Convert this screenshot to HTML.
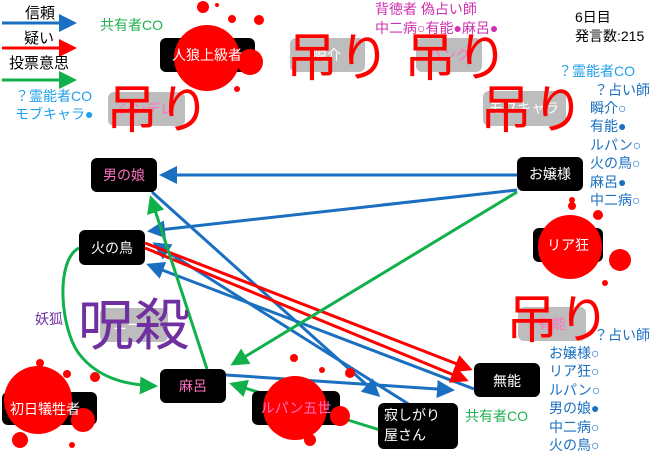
<!DOCTYPE html>
<html><head><meta charset="utf-8"><style>
html,body{margin:0;padding:0;background:#fff;}
svg{display:block;}
text{font-family:"Liberation Sans","Noto Sans CJK JP",sans-serif;}
</style></head><body>
<svg width="660" height="452" viewBox="0 0 660 452" xmlns="http://www.w3.org/2000/svg">
<defs>
<marker id="ab" markerWidth="6" markerHeight="6" refX="5" refY="3" orient="auto" markerUnits="strokeWidth"><path d="M0,0 L6,3 L0,6 z" fill="#1a6fc0"/></marker>
<marker id="ar" markerWidth="6" markerHeight="6" refX="5" refY="3" orient="auto" markerUnits="strokeWidth"><path d="M0,0 L6,3 L0,6 z" fill="#ff0000"/></marker>
<marker id="ag" markerWidth="6" markerHeight="6" refX="5" refY="3" orient="auto" markerUnits="strokeWidth"><path d="M0,0 L6,3 L0,6 z" fill="#10b04a"/></marker>
</defs>

<!-- legend -->
<text x="25" y="18" font-size="15">信頼</text>
<line x1="2" y1="23" x2="74" y2="23" stroke="#1a6fc0" stroke-width="3" marker-end="url(#ab)"/>
<text x="24" y="43" font-size="15">疑い</text>
<line x1="2" y1="48" x2="74" y2="48" stroke="#ff0000" stroke-width="3" marker-end="url(#ar)"/>
<text x="9" y="68" font-size="15">投票意思</text>
<line x1="2" y1="80" x2="74" y2="80" stroke="#10b04a" stroke-width="3" marker-end="url(#ag)"/>

<!-- gray hanged boxes -->
<rect x="108" y="92" width="77" height="34" rx="6" fill="#bdbdbd"/><text x="146" y="114" font-size="14" fill="#ff70c0" text-anchor="middle">シンデレ</text>
<rect x="290" y="38" width="75" height="34" rx="6" fill="#bdbdbd"/><text x="327" y="60" font-size="14" fill="#fff" text-anchor="middle">瞬介</text>
<rect x="416" y="38" width="66" height="34" rx="6" fill="#bdbdbd"/><text x="449" y="60" font-size="14" fill="#ff70c0" text-anchor="middle">ハンク</text>
<rect x="483" y="91" width="83" height="35" rx="6" fill="#bdbdbd"/><text x="524" y="113" font-size="14" fill="#fff" text-anchor="middle">モブキャラ</text>
<rect x="518" y="307" width="68" height="34" rx="6" fill="#bdbdbd"/><text x="552" y="329" font-size="14" fill="#ff70c0" text-anchor="middle">有能</text>
<rect x="100" y="308" width="68" height="34" rx="6" fill="#bdbdbd"/><text x="134" y="330" font-size="14" fill="#fff" text-anchor="middle">ニート</text>

<!-- edges -->
<g fill="none" stroke-width="3">
<line x1="517" y1="175" x2="162" y2="175" stroke="#1a6fc0" marker-end="url(#ab)"/>
<line x1="517" y1="190" x2="150" y2="231" stroke="#1a6fc0" marker-end="url(#ab)"/>
<line x1="152" y1="192" x2="378" y2="395" stroke="#1a6fc0" marker-end="url(#ab)"/>
<line x1="410" y1="405" x2="155" y2="244" stroke="#1a6fc0" marker-end="url(#ab)"/>
<line x1="474" y1="389" x2="149" y2="265" stroke="#1a6fc0" marker-end="url(#ab)"/>
<line x1="226" y1="375" x2="452" y2="390" stroke="#1a6fc0" marker-end="url(#ab)"/>
<line x1="145" y1="243" x2="470" y2="369" stroke="#ff0000" marker-end="url(#ar)"/>
<line x1="145" y1="248" x2="466" y2="380" stroke="#ff0000" marker-end="url(#ar)"/>
<line x1="207" y1="369" x2="151" y2="198" stroke="#10b04a" marker-end="url(#ag)"/>
<line x1="517" y1="192" x2="233" y2="364" stroke="#10b04a" marker-end="url(#ag)"/>
<line x1="380" y1="430" x2="232" y2="384" stroke="#10b04a" marker-end="url(#ag)"/>
<path d="M79,248 C55,260 60,330 80,355 C100,380 130,385 155,386" stroke="#10b04a" marker-end="url(#ag)"/>
</g>

<!-- nodes -->
<g font-size="14" text-anchor="middle">
<rect x="91" y="158" width="66" height="34" rx="6" fill="#000"/><text x="124" y="180" fill="#ff70c0">男の娘</text>
<rect x="79" y="230" width="66" height="35" rx="6" fill="#000"/><text x="112" y="253" fill="#fff">火の鳥</text>
<rect x="517" y="157" width="66" height="34" rx="6" fill="#000"/><text x="550" y="179" fill="#fff">お嬢様</text>
<rect x="160" y="369" width="66" height="34" rx="6" fill="#000"/><text x="193" y="391" fill="#ff70c0">麻呂</text>
<rect x="474" y="363" width="66" height="34" rx="6" fill="#000"/><text x="507" y="386" fill="#fff">無能</text>
<rect x="378" y="403" width="80" height="46" rx="6" fill="#000"/><text x="384" y="420" fill="#fff" text-anchor="start">寂しがり</text><text x="384" y="440" fill="#fff" text-anchor="start">屋さん</text>
<rect x="533" y="228" width="70" height="34" rx="6" fill="#000"/>
<rect x="2" y="392" width="95" height="33" rx="6" fill="#000"/>
<rect x="252" y="391" width="88" height="34" rx="6" fill="#000"/>
<rect x="160" y="38" width="95" height="34" rx="6" fill="#000"/>
</g>

<!-- blood -->
<g fill="#ff0000">
<circle cx="207" cy="58" r="33"/><circle cx="250" cy="62" r="13"/><circle cx="203" cy="7" r="6"/><circle cx="259" cy="20" r="5"/><circle cx="232" cy="19" r="4"/><circle cx="237" cy="89" r="3"/><circle cx="217" cy="5" r="2"/>
<circle cx="570" cy="247" r="32"/><circle cx="620" cy="260" r="11"/><circle cx="572" cy="206" r="4"/><circle cx="598" cy="215" r="5"/><circle cx="605" cy="283" r="3"/><circle cx="572" cy="200" r="3"/>
<circle cx="38" cy="400" r="34"/><circle cx="83" cy="420" r="12"/><circle cx="40" cy="363" r="4"/><circle cx="67" cy="374" r="4"/><circle cx="95" cy="377" r="5"/><circle cx="72" cy="445" r="3"/><circle cx="20" cy="440" r="8"/>
<circle cx="295" cy="408" r="32"/><circle cx="340" cy="416" r="10"/><circle cx="294" cy="358" r="4"/><circle cx="322" cy="370" r="3"/><circle cx="350" cy="373" r="5"/><circle cx="310" cy="440" r="6"/>
</g>
<g font-size="14" text-anchor="middle">
<text x="207" y="60" fill="#fff">人狼上級者</text>
<text x="568" y="250" fill="#fff">リア狂</text>
<text x="45" y="414" fill="#fff">初日犠牲者</text>
<text x="296" y="413" fill="#ff70c0">ルパン五世</text>
</g>

<!-- big labels -->
<g font-size="52" fill="#ff0000">
<text x="106" y="128">吊り</text>
<text x="286" y="76">吊り</text>
<text x="404" y="76">吊り</text>
<text x="480" y="128">吊り</text>
<text x="506" y="338">吊り</text>
</g>
<text x="78" y="345" font-size="56" fill="#7030a0">呪殺</text>

<!-- annotations -->
<g font-size="14">
<text x="100" y="30" fill="#20b050">共有者CO</text>
<text x="15" y="101" fill="#20a0e8">？霊能者CO</text>
<text x="15" y="119" fill="#20a0e8">モブキャラ●</text>
<text x="375" y="14" fill="#d030b0">背徳者 偽占い師</text>
<text x="375" y="33" fill="#d030b0">中二病○有能●麻呂●</text>
<text x="575" y="22" fill="#000">6日目</text>
<text x="575" y="41" fill="#000">発言数:215</text>
<text x="558" y="76" fill="#20a0e8">？霊能者CO</text>
<text x="35" y="324" fill="#7030a0">妖狐</text>
<text x="465" y="421" fill="#20b050">共有者CO</text>
</g>
<g font-size="14" fill="#1a6fc0">
<text x="594" y="95">？占い師</text>
<text x="590" y="113">瞬介○</text>
<text x="590" y="131">有能●</text>
<text x="590" y="150">ルパン○</text>
<text x="590" y="168">火の鳥○</text>
<text x="590" y="187">麻呂●</text>
<text x="590" y="205">中二病○</text>
<text x="594" y="340">？占い師</text>
<text x="549" y="358">お嬢様○</text>
<text x="549" y="376">リア狂○</text>
<text x="549" y="395">ルパン○</text>
<text x="549" y="413">男の娘●</text>
<text x="549" y="432">中二病○</text>
<text x="549" y="450">火の鳥○</text>
</g>
</svg>
</body></html>
